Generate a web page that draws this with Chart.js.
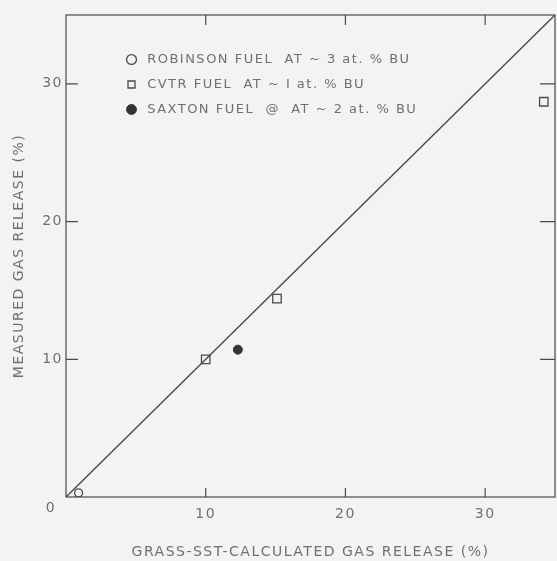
<!DOCTYPE html>
<html>
<head>
<meta charset="utf-8">
<script src="https://cdn.jsdelivr.net/npm/chart.js@4.4.1/dist/chart.umd.min.js"></script>
<style>
  html, body { margin: 0; padding: 0; background: #f3f3f2; }
  #wrap { width: 557px; height: 561px; }
</style>
</head>
<body>
<div id="wrap"><canvas id="gasChart"></canvas></div>
<script>
// values (both axes in %)
const robinson = [{ x: 0.9, y: 0.3 }];
const cvtr = [{ x: 10.0, y: 10.0 }, { x: 15.1, y: 14.4 }, { x: 34.2, y: 28.7 }];
const saxton = [{ x: 12.3, y: 10.7 }];
const identityLine = [{ x: 0, y: 0 }, { x: 35, y: 35 }];
const axisTicks = [10, 20, 30];
const seriesNames = [
  " ROBINSON FUEL  AT ~ 3 at. % BU",
  " CVTR FUEL  AT ~ I at. % BU",
  " SAXTON FUEL  @  AT ~ 2 at. % BU",
];

const ink = "#4a4a4a";
const textInk = "#707070";
const fontFamily = "'DejaVu Sans', sans-serif";

// frame with inward tick marks on all four sides, plus the shared "0"
const framePlugin = {
  id: "frame",
  beforeDraw(chart) {
    chart.ctx.letterSpacing = "1.5px";
  },
  afterLayout(chart) {
    const lg = chart.legend;
    lg.left = chart.chartArea.left + 50;
    lg.top = chart.chartArea.top + 26;
  },
  afterDraw(chart) {
    const { ctx, chartArea: a, scales } = chart;
    ctx.save();
    ctx.strokeStyle = ink;
    ctx.lineWidth = 1.2;
    ctx.strokeRect(a.left, a.top, a.right - a.left, a.bottom - a.top);
    ctx.beginPath();
    axisTicks.forEach((v) => {
      const px = scales.x.getPixelForValue(v);
      ctx.moveTo(px, a.bottom); ctx.lineTo(px, a.bottom - 9);
      ctx.moveTo(px, a.top); ctx.lineTo(px, a.top + 10);
      const py = scales.y.getPixelForValue(v);
      ctx.moveTo(a.left, py); ctx.lineTo(a.left + 12, py);
      ctx.moveTo(a.right, py); ctx.lineTo(a.right - 15, py);
    });
    ctx.stroke();
    ctx.fillStyle = textInk;
    ctx.font = "14px " + fontFamily;
    ctx.textAlign = "center";
    ctx.textBaseline = "middle";
    ctx.fillText("0", scales.x.getPixelForValue(0) - 15, scales.y.getPixelForValue(0) + 11);
    ctx.restore();
  },
};

new Chart(document.getElementById("gasChart"), {
  type: "scatter",
  data: {
    datasets: [
      {
        label: seriesNames[0],
        data: robinson,
        pointStyle: "circle",
        pointRadius: 4,
        borderColor: ink,
        backgroundColor: "rgba(0,0,0,0)",
        borderWidth: 1.3,
      },
      {
        label: seriesNames[1],
        data: cvtr,
        pointStyle: "rect",
        pointRadius: 6,
        borderColor: ink,
        backgroundColor: "rgba(0,0,0,0)",
        borderWidth: 1.3,
      },
      {
        label: seriesNames[2],
        data: saxton,
        pointStyle: "circle",
        pointRadius: 4.5,
        borderColor: "#333",
        backgroundColor: "#333",
        borderWidth: 1,
      },
      {
        type: "line",
        label: "calc = meas",
        data: identityLine,
        borderColor: ink,
        borderWidth: 1.4,
        pointRadius: 0,
        fill: false,
      },
    ],
  },
  options: {
    responsive: true,
    maintainAspectRatio: false,
    animation: false,
    layout: { autoPadding: false, padding: { top: 15, right: 2, left: 0, bottom: 0 } },
    plugins: {
      tooltip: { enabled: false },
      legend: {
        position: "chartArea",
        align: "start",
        labels: {
          usePointStyle: true,
          boxWidth: 7,
          boxHeight: 7,
          padding: 12,
          color: textInk,
          font: { family: fontFamily, size: 13 },
          filter: (item) => item.datasetIndex < 3,
        },
      },
    },
    scales: {
      x: {
        type: "linear",
        min: 0,
        max: 35,
        afterFit: (s) => { s.height = 64; s.paddingLeft = 0; s.paddingRight = 0; },
        afterBuildTicks: (s) => { s.ticks = axisTicks.map((v) => ({ value: v })); },
        grid: { display: false, drawTicks: false },
        border: { display: false },
        ticks: {
          color: textInk,
          padding: 9,
          font: { family: fontFamily, size: 14 },
        },
        title: {
          display: true,
          text: "GRASS-SST-CALCULATED GAS RELEASE (%)",
          color: textInk,
          font: { family: fontFamily, size: 14 },
          padding: { top: 10, bottom: 0 },
        },
      },
      y: {
        type: "linear",
        min: 0,
        max: 35,
        afterFit: (s) => { s.width = 66; },
        afterBuildTicks: (s) => { s.ticks = axisTicks.map((v) => ({ value: v })); },
        grid: { display: false, drawTicks: false },
        border: { display: false },
        ticks: {
          color: textInk,
          padding: 3,
          font: { family: fontFamily, size: 14 },
        },
        title: {
          display: true,
          text: "MEASURED GAS RELEASE (%)",
          color: textInk,
          font: { family: fontFamily, size: 14 },
          padding: { top: 11, bottom: 0 },
        },
      },
    },
  },
  plugins: [framePlugin],
});
</script>
</body>
</html>
